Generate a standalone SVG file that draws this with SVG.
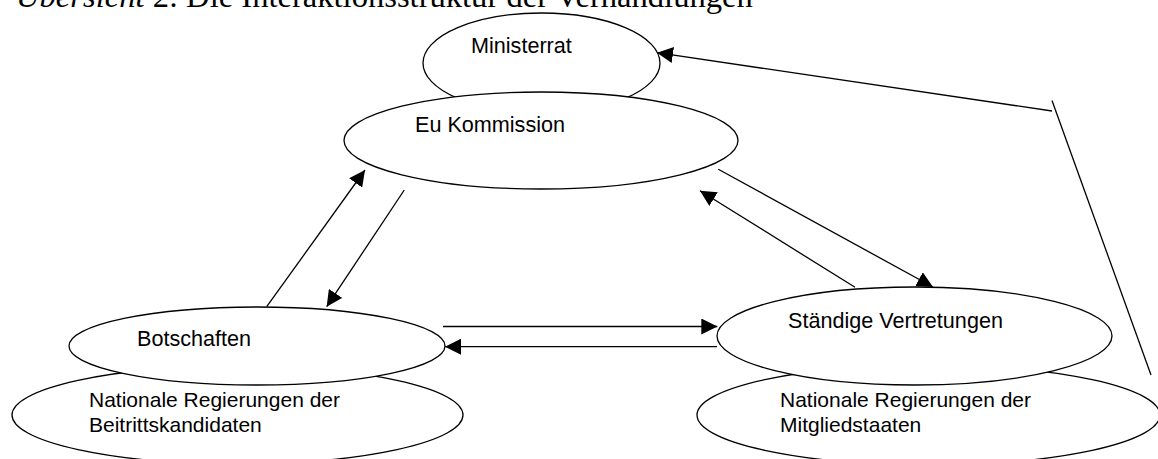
<svg xmlns="http://www.w3.org/2000/svg" width="1158" height="459" viewBox="0 0 1158 459">
<style>
.node{fill:#fff;stroke:#000;stroke-width:1.3}
.lbl{font-family:"Liberation Sans",Arial,sans-serif;font-size:21.6px;fill:#000}
.lbl2{font-family:"Liberation Sans",Arial,sans-serif;font-size:21px;fill:#000}
.title{font-family:"Liberation Serif","Times New Roman",serif;font-size:32.6px;fill:#000}
.conn line{stroke:#000;stroke-width:1.3;fill:none}
</style>
<defs>
<marker id="ah" markerWidth="16" markerHeight="16" refX="16" refY="8" orient="auto" markerUnits="userSpaceOnUse">
<path d="M0,0 L16,8 L0,16 z" fill="#000"/>
</marker>
</defs>
<rect width="1158" height="459" fill="#fff"/>
<text class="title" x="16" y="6.5"><tspan font-style="italic">Übersicht</tspan> 2: Die Interaktionsstruktur der Verhandlungen</text>
<g id="connectors" class="conn">
<line x1="1052" y1="111" x2="657" y2="52.7" marker-end="url(#ah)"/>
<line x1="1052" y1="100.5" x2="1151" y2="375"/>
<line x1="718.3" y1="169.3" x2="933" y2="287" marker-end="url(#ah)"/>
<line x1="855" y1="287.3" x2="700" y2="190.7" marker-end="url(#ah)"/>
<line x1="266.7" y1="306.7" x2="365" y2="170" marker-end="url(#ah)"/>
<line x1="404.3" y1="190" x2="326.7" y2="306.7" marker-end="url(#ah)"/>
<line x1="443" y1="326.5" x2="717.3" y2="326.5" marker-end="url(#ah)"/>
<line x1="717" y1="346.7" x2="445" y2="346.7" marker-end="url(#ah)"/>
</g>
<g id="ministerrat">
<ellipse class="node" cx="541.5" cy="63" rx="118.5" ry="50"/>
<text class="lbl" x="471" y="53">Ministerrat</text>
</g>
<g id="eu-kommission">
<ellipse class="node" cx="541" cy="140.5" rx="197" ry="48.5"/>
<text class="lbl" x="415" y="132">Eu Kommission</text>
</g>
<g id="nat-beitritt">
<ellipse class="node" cx="237.5" cy="415" rx="225.5" ry="49"/>
<text class="lbl2" x="89" y="407.3">Nationale Regierungen der</text>
<text class="lbl2" x="89" y="431.7">Beitrittskandidaten</text>
</g>
<g id="botschaften">
<ellipse class="node" cx="257" cy="346" rx="188" ry="39"/>
<text class="lbl" x="137" y="345.7">Botschaften</text>
</g>
<g id="nat-mitglied">
<ellipse class="node" cx="928.5" cy="415" rx="231.5" ry="50"/>
<text class="lbl2" x="780" y="407.3">Nationale Regierungen der</text>
<text class="lbl2" x="780" y="431.7">Mitgliedstaaten</text>
</g>
<g id="staendige">
<ellipse class="node" cx="914.5" cy="336" rx="197.5" ry="49"/>
<text class="lbl" x="788" y="328.3">Ständige Vertretungen</text>
</g>
</svg>
